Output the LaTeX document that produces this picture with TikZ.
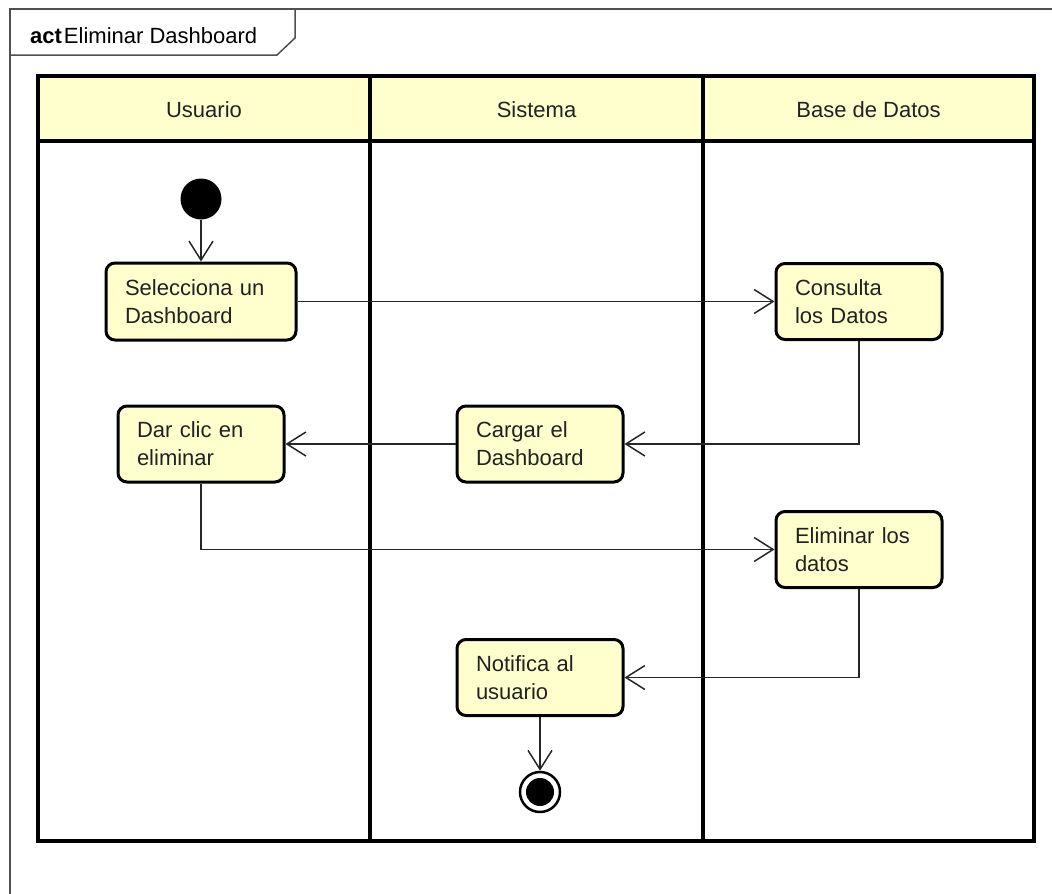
\documentclass[tikz,border=0pt]{standalone}
\usepackage{fontspec}
\setmainfont{Liberation Sans}
\usetikzlibrary{arrows.meta,positioning}
\definecolor{umlfill}{RGB}{255,255,206}
\definecolor{txt}{RGB}{34,34,34}
\definecolor{framegray}{RGB}{80,80,80}
\tikzset{
  actbox/.style={draw=black, line width=3pt, fill=umlfill, rounded corners=9pt,
    inner xsep=19pt, inner ysep=0pt, text width=128pt, align=left,
    minimum height=76pt, text=txt, font=\fontsize{22}{28}\selectfont},
  flow/.style={draw=black!85, line width=1.5pt,
    -{Straight Barb[length=19pt,width=24pt,line width=1.5pt]}},
  lanehead/.style={text=txt, font=\fontsize{22}{28}\selectfont},
  lane/.style={draw=black, line width=3.5pt},
}
\begin{document}
\begin{tikzpicture}[x=1pt,y=-1pt]
\useasboundingbox (0,0) rectangle (1052,894);
% frame
\draw[framegray, line width=1.5pt] (10,894) -- (10,9) -- (1052,9);
\draw[framegray, line width=1.5pt] (10,55) -- (277,55) -- (295,38) -- (295,9);
\node[anchor=base west, inner sep=0pt, text=black, font=\fontsize{22}{28}\selectfont] (title) at (30,43) {\textbf{act}\hspace{2pt}Eliminar Dashboard};
% swimlanes
\fill[umlfill] (38,76) rectangle (1034,141);
\draw[lane] (38,76) rectangle (1034,841);
\draw[lane] (38,141) -- (1034,141);
\draw[lane] (370,76) -- (370,841);
\draw[lane] (703,76) -- (703,841);
\node[lanehead] (h1) at (204,110) {Usuario};
\node[lanehead] (h2) at (536.5,110) {Sistema};
\node[lanehead] (h3) at (868.5,110) {Base de Datos};
% nodes
\node[circle, fill=black, minimum size=41pt, inner sep=0pt] (ini) at (201,199) {};
\node[actbox, text width=152pt, minimum height=77pt] (sel) at (201,301.5) {Selecciona un\\Dashboard};
\node[actbox] (con) at (859,301.5) {Consulta\\los Datos};
\node[actbox] (dar) at (201,444) {Dar clic en\\eliminar};
\node[actbox] (car) at (540,444) {Cargar el\\Dashboard};
\node[actbox] (eli) at (859,549.5) {Eliminar los\\datos};
\node[actbox] (not) at (540,677.5) {Notifica al\\usuario};
\node[circle, draw=black, line width=2.5pt, fill=white, minimum size=40pt, inner sep=0pt] (fin) at (540,792) {};
\node[circle, fill=black, minimum size=28pt, inner sep=0pt] (finin) at (fin.center) {};
% flows
\draw[flow] (ini) -- (sel);
\draw[flow] (sel.east) -- (con.west);
\draw[flow] (con.south) |- (car.east);
\draw[flow] (car.west) -- (dar.east);
\draw[flow] (dar.south) |- (eli.west);
\draw[flow] (eli.south) |- (not.east);
\draw[flow] (not.south) -- (fin.north);
\end{tikzpicture}
\end{document}
